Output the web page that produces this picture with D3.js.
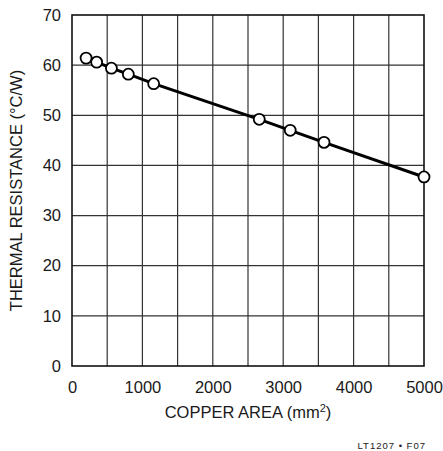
<!DOCTYPE html>
<html>
<head>
<meta charset="utf-8">
<script src="https://cdn.jsdelivr.net/npm/d3@7"></script>
<style>
  html, body { margin: 0; padding: 0; background: #fff; }
  svg { display: block; }
  text { font-family: "Liberation Sans", Arial, sans-serif; fill: #1a1a1a; }
</style>
</head>
<body>
<svg id="chart" width="443" height="451"></svg>
<script>
const copperArea = [200, 350, 560, 800, 1160, 2660, 3100, 3580, 5000];
const thermalResistance = [61.4, 60.6, 59.4, 58.2, 56.3, 49.2, 47.0, 44.6, 37.7];
const xTicks = [0, 1000, 2000, 3000, 4000, 5000];
const yTicks = [0, 10, 20, 30, 40, 50, 60, 70];
const xGrid = [500, 1000, 1500, 2000, 2500, 3000, 3500, 4000, 4500];
const yGrid = [10, 20, 30, 40, 50, 60];

const svg = d3.select("#chart");
const L = 72, R = 424, T = 15, B = 366;
const x = d3.scaleLinear().domain([0, 5000]).range([L, R]);
const y = d3.scaleLinear().domain([0, 70]).range([B, T]);

// grid
svg.append("g").selectAll("line").data(xGrid).join("line")
  .attr("x1", d => x(d)).attr("x2", d => x(d)).attr("y1", T).attr("y2", B)
  .attr("stroke", "#333").attr("stroke-width", 1.2);
svg.append("g").selectAll("line").data(yGrid).join("line")
  .attr("y1", d => y(d)).attr("y2", d => y(d)).attr("x1", L).attr("x2", R)
  .attr("stroke", "#333").attr("stroke-width", 1.2);

// frame
svg.append("rect").attr("x", L).attr("y", T).attr("width", R - L).attr("height", B - T)
  .attr("fill", "none").attr("stroke", "#111").attr("stroke-width", 1.6);

// axes tick labels
const xAxis = d3.axisBottom(x).tickValues(xTicks).tickSize(0).tickFormat(d3.format("d"));
const gx = svg.append("g").attr("transform", `translate(0,${B})`).call(xAxis);
gx.select(".domain").remove();
gx.selectAll("text").attr("font-size", 16.5).attr("font-family", null).attr("fill", "#1a1a1a")
  .attr("dy", null).attr("y", 26.5);

const yAxis = d3.axisLeft(y).tickValues(yTicks).tickSize(0).tickPadding(11).tickFormat(d3.format("d"));
const gy = svg.append("g").attr("transform", `translate(${L},0)`).call(yAxis);
gy.select(".domain").remove();
gy.selectAll("text").attr("font-size", 16.5).attr("font-family", null).attr("fill", "#1a1a1a");

// line
const pts = copperArea.map((a, i) => [a, thermalResistance[i]]);
svg.append("path").datum(pts)
  .attr("d", d3.line().x(d => x(d[0])).y(d => y(d[1])))
  .attr("fill", "none").attr("stroke", "#000").attr("stroke-width", 3);

svg.append("g").selectAll("circle").data(pts).join("circle")
  .attr("cx", d => x(d[0])).attr("cy", d => y(d[1])).attr("r", 5.5)
  .attr("fill", "#fff").attr("stroke", "#000").attr("stroke-width", 1.8);

// axis titles
svg.append("text").attr("x", (L + R) / 2).attr("y", 418).attr("text-anchor", "middle")
  .attr("font-size", 16.5)
  .html('COPPER AREA (mm<tspan dy="-6" font-size="11">2</tspan><tspan dy="6">)</tspan>');

svg.append("text").attr("transform", `translate(22,${(T + B) / 2}) rotate(-90)`)
  .attr("text-anchor", "middle").attr("font-size", 16.5)
  .text("THERMAL RESISTANCE (°C/W)");

svg.append("text").attr("x", 426).attr("y", 449).attr("text-anchor", "end")
  .attr("font-size", 9.5).attr("letter-spacing", 1).text("LT1207 • F07");
</script>
</body>
</html>
